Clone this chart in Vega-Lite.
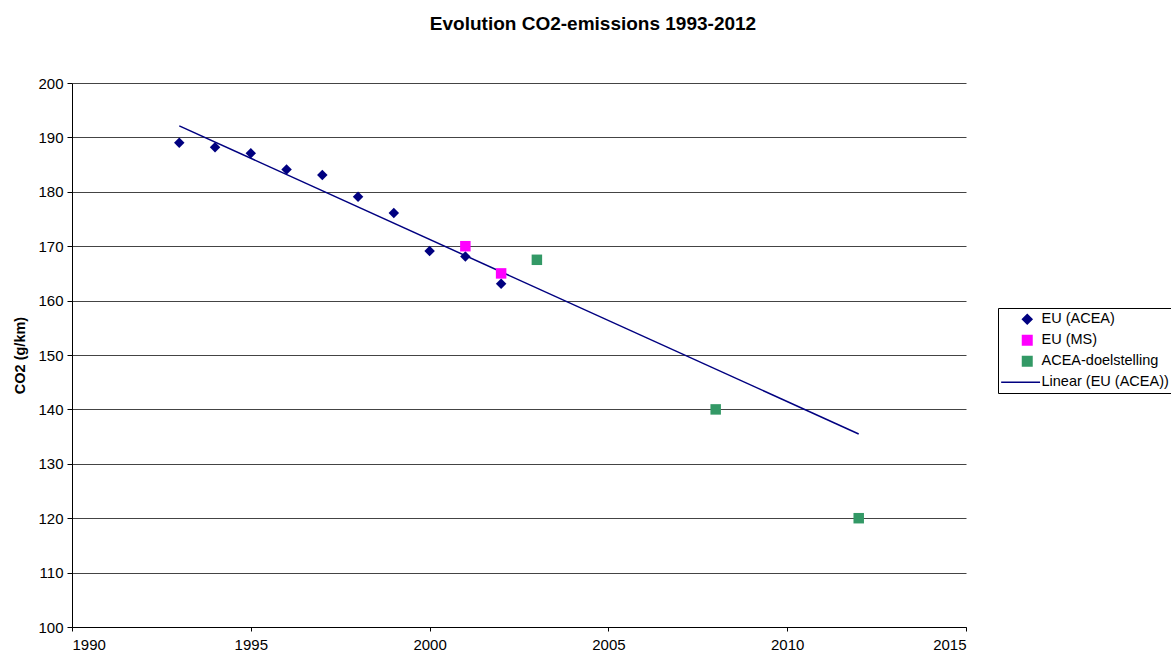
{
  "$schema": "https://vega.github.io/schema/vega-lite/v6.json",
  "width": 894,
  "height": 544,
  "padding": {"left": 12, "top": 15, "right": 0, "bottom": 0},
  "autosize": {"type": "pad"},
  "background": "white",
  "config": {
    "view": {"stroke": null},
    "font": "Liberation Sans",
    "axis": {"labelFont": "Liberation Sans", "labelFontSize": 15, "labelColor": "#000", "titleColor": "#000", "domainColor": "#000", "tickColor": "#000"}
  },
  "title": {
    "text": "Evolution CO2-emissions 1993-2012",
    "font": "Liberation Sans",
    "fontSize": 19,
    "fontWeight": "bold",
    "color": "#000",
    "anchor": "middle",
    "dx": 74,
    "offset": 42
  },
  "data": {
    "values": [
      {"year": 1993, "co2": 189, "series": "EU (ACEA)"},
      {"year": 1994, "co2": 188.2, "series": "EU (ACEA)"},
      {"year": 1995, "co2": 187.1, "series": "EU (ACEA)"},
      {"year": 1996, "co2": 184.1, "series": "EU (ACEA)"},
      {"year": 1997, "co2": 183.1, "series": "EU (ACEA)"},
      {"year": 1998, "co2": 179.1, "series": "EU (ACEA)"},
      {"year": 1999, "co2": 176.1, "series": "EU (ACEA)"},
      {"year": 2000, "co2": 169.1, "series": "EU (ACEA)"},
      {"year": 2001, "co2": 168.1, "series": "EU (ACEA)"},
      {"year": 2002, "co2": 163.1, "series": "EU (ACEA)"},
      {"year": 2001, "co2": 170, "series": "EU (MS)"},
      {"year": 2002, "co2": 165, "series": "EU (MS)"},
      {"year": 2003, "co2": 167.5, "series": "ACEA-doelstelling"},
      {"year": 2008, "co2": 140, "series": "ACEA-doelstelling"},
      {"year": 2012, "co2": 120, "series": "ACEA-doelstelling"}
    ]
  },
  "encoding": {
    "x": {
      "field": "year",
      "type": "quantitative",
      "scale": {"domain": [1990, 2015], "nice": false},
      "axis": {"title": null, "values": [1990, 1995, 2000, 2005, 2010, 2015], "format": "d", "grid": false, "tickSize": 4, "labelPadding": 6, "labelOverlap": false}
    },
    "y": {
      "field": "co2",
      "type": "quantitative",
      "scale": {"domain": [100, 200], "nice": false, "zero": false},
      "axis": {"title": "CO2 (g/km)", "titleFontSize": 14.5, "titleFontWeight": "bold", "titleFont": "Liberation Sans", "values": [100,110,120,130,140,150,160,170,180,190,200], "labelOverlap": false, "grid": true, "gridColor": "#444", "gridWidth": 1, "tickSize": 5, "labelPadding": 4, "titlePadding": 10}
    }
  },
  "layer": [
    {
      "transform": [
        {"filter": "datum.series === 'EU (ACEA)'"},
        {"regression": "co2", "on": "year", "extent": [1993, 2012]}
      ],
      "mark": {"type": "line", "strokeWidth": 1.5},
      "encoding": {
        "color": {"datum": "Linear (EU (ACEA))", "type": "nominal"}
      }
    },
    {
      "mark": {"type": "point", "filled": true, "opacity": 1, "size": 110},
      "encoding": {
        "color": {
          "field": "series",
          "type": "nominal",
          "scale": {
            "domain": ["EU (ACEA)", "EU (MS)", "ACEA-doelstelling", "Linear (EU (ACEA))"],
            "range": ["#000080", "#FF00FF", "#339966", "#000080"]
          },
          "legend": {
            "title": null,
            "orient": "none",
            "legendX": 926,
            "legendY": 225,
            "strokeColor": "#000",
            "padding": 4,
            "labelFont": "Liberation Sans",
            "labelFontSize": 14.5,
            "labelColor": "#000",
            "rowPadding": 5,
            "symbolSize": 90,
            "symbolStrokeWidth": 1.5,
            "symbolOffset": 18,
            "labelOffset": 7,
            "encode": {"symbols": {"update": {
              "stroke": {"scale": "color", "field": "value"},
              "fill": {"scale": "color", "field": "value"},
              "strokeWidth": {"value": 1.5}
            }}}
          }
        },
        "shape": {
          "field": "series",
          "type": "nominal",
          "scale": {
            "domain": ["EU (ACEA)", "EU (MS)", "ACEA-doelstelling", "Linear (EU (ACEA))"],
            "range": ["diamond", "square", "square", "M-5.5,0H2.7"]
          }
        }
      }
    }
  ]
}
